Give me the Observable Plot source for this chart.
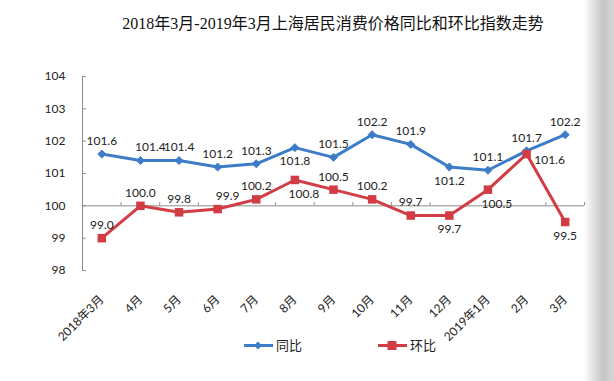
<!DOCTYPE html>
<html>
<head>
<meta charset="utf-8">
<script src="https://cdn.jsdelivr.net/npm/d3@7"></script>
<script src="https://cdn.jsdelivr.net/npm/@observablehq/plot@0.6"></script>
<style>
  html, body { margin: 0; padding: 0; background: #fff; }
  body { width: 614px; height: 381px; overflow: hidden; position: relative; font-family: Lato, "Noto Sans CJK SC", sans-serif; }
  #title { position: absolute; top: 14px; left: 0; width: 666px; text-align: center; font-size: 16px; line-height: 20px; color: #111; font-family: "Liberation Serif", "Noto Sans CJK SC", serif; white-space: nowrap; }
  #chart { position: absolute; top: 50px; left: 0; }
  #chart svg { overflow: visible; }
  #legend { position: absolute; top: 336px; left: 243px; font-size: 13px; line-height: 18px; color: #222; font-family: "Noto Sans CJK SC", sans-serif; white-space: nowrap; }
  #legend .item { position: absolute; top: 0; display: flex; align-items: center; }
  #legend svg { display: block; margin-right: 2px; }
  #shade { position: absolute; top: 0; left: 584px; width: 30px; height: 381px; background: linear-gradient(to right, rgba(255,255,255,0) 0%, #c6c6c6 63%, #d6d6d6 100%); }
</style>
</head>
<body>
<div id="title">2018年3月-2019年3月上海居民消费价格同比和环比指数走势</div>
<div id="chart"></div>
<div id="legend"></div>
<div id="shade"></div>
<script>
// ---- data ----
const months = ["2018年3月","4月","5月","6月","7月","8月","9月","10月","11月","12月","2019年1月","2月","3月"];
const yoy = [101.6, 101.4, 101.4, 101.2, 101.3, 101.8, 101.5, 102.2, 101.9, 101.2, 101.1, 101.7, 102.2]; // 同比
const mom = [99.0, 100.0, 99.8, 99.9, 100.2, 100.8, 100.5, 100.2, 99.7, 99.7, 100.5, 101.6, 99.5];      // 环比
const yTicks = [98, 99, 100, 101, 102, 103, 104];
const seriesNames = ["同比", "环比"];
// data label placement (t = above, b = below, r = right, tr/br = shifted right)
const yoyLabelPos = ["t","tr","t","t","t","b","t","t","t","b","t","t","t"];
const momLabelPos = ["t","t","t","tr","t","br","t","t","t","b","br","r","b"];

// ---- styling ----
const blue = "#3d7cc9";
const red = "#d23c44";
const axisColor = "#8c8c8c";
const offsets = {
  t: {dx: 0, dy: -13}, tr: {dx: 10, dy: -13},
  b: {dx: 0, dy: 14}, br: {dx: 9, dy: 14},
  r: {dx: 23, dy: 6}
};

const rows = months.map((m, i) => ({i, month: m, yoy: yoy[i], mom: mom[i], yoyPos: yoyLabelPos[i], momPos: momLabelPos[i]}));
const idx = rows.map(d => d.i);
const xDomain = [-0.5, months.length - 0.5];
const boundaries = d3.range(months.length + 1).map(k => k - 0.5);

function labelMarks(key, posKey) {
  return Object.keys(offsets).map(p =>
    Plot.text(rows.filter(d => d[posKey] === p), {
      x: "i", y: key, text: d => d[key].toFixed(1),
      dx: offsets[p].dx, dy: offsets[p].dy,
      fill: "#222", fontSize: 12
    })
  );
}

const chart = Plot.plot({
  width: 614,
  height: 320,
  marginLeft: 82,
  marginRight: 30,
  marginTop: 26,
  marginBottom: 100,
  style: {fontFamily: 'Lato, "Noto Sans CJK SC", sans-serif', fontSize: "12px", color: "#222", background: "transparent", overflow: "visible"},
  x: {type: "linear", domain: xDomain, ticks: idx, tickFormat: i => months[i], tickRotate: -45, tickSize: 0, tickPadding: 27, label: null},
  y: {domain: [98, 104], ticks: yTicks, tickFormat: d => String(d), tickSize: 0, tickPadding: 17, label: null},
  marks: [
    // y axis line and inward ticks
    Plot.ruleX([xDomain[0]], {y1: yTicks[0], y2: yTicks[yTicks.length - 1], stroke: axisColor}),
    Plot.ruleY(yTicks, {x1: xDomain[0], x2: xDomain[0] + 0.1, stroke: axisColor}),
    // category axis along 100
    Plot.ruleY([100], {x1: xDomain[0], x2: xDomain[1], stroke: axisColor}),
    Plot.ruleX(boundaries, {y1: 100, y2: 100.1, stroke: axisColor}),
    // series
    Plot.line(rows, {x: "i", y: "yoy", stroke: blue, strokeWidth: 3, strokeLinejoin: "round"}),
    Plot.line(rows, {x: "i", y: "mom", stroke: red, strokeWidth: 3, strokeLinejoin: "round"}),
    Plot.dot(rows, {x: "i", y: "yoy", symbol: "diamond2", r: 3.6, fill: blue, stroke: blue, strokeWidth: 1}),
    Plot.dot(rows, {x: "i", y: "mom", symbol: "square", r: 4.8, fill: red}),
    ...labelMarks("yoy", "yoyPos"),
    ...labelMarks("mom", "momPos")
  ]
});
document.getElementById("chart").appendChild(chart);

// ---- legend ----
const legend = document.getElementById("legend");
const legendItems = [
  {name: seriesNames[0], color: blue, symbol: "diamond", left: 0},
  {name: seriesNames[1], color: red, symbol: "square", left: 134}
];
legendItems.forEach(it => {
  const div = document.createElement("div");
  div.className = "item";
  div.style.left = it.left + "px";
  const marker = it.symbol === "diamond"
    ? `<path d="M15,1.5 L19,5.5 L15,9.5 L11,5.5 Z" fill="${it.color}"/>`
    : `<rect x="10.5" y="1" width="9" height="9" fill="${it.color}"/>`;
  div.innerHTML = `<svg width="31" height="11" viewBox="0 0 31 11"><line x1="1" y1="5.5" x2="30" y2="5.5" stroke="${it.color}" stroke-width="3"/>${marker}</svg><span>${it.name}</span>`;
  legend.appendChild(div);
});
</script>
</body>
</html>
